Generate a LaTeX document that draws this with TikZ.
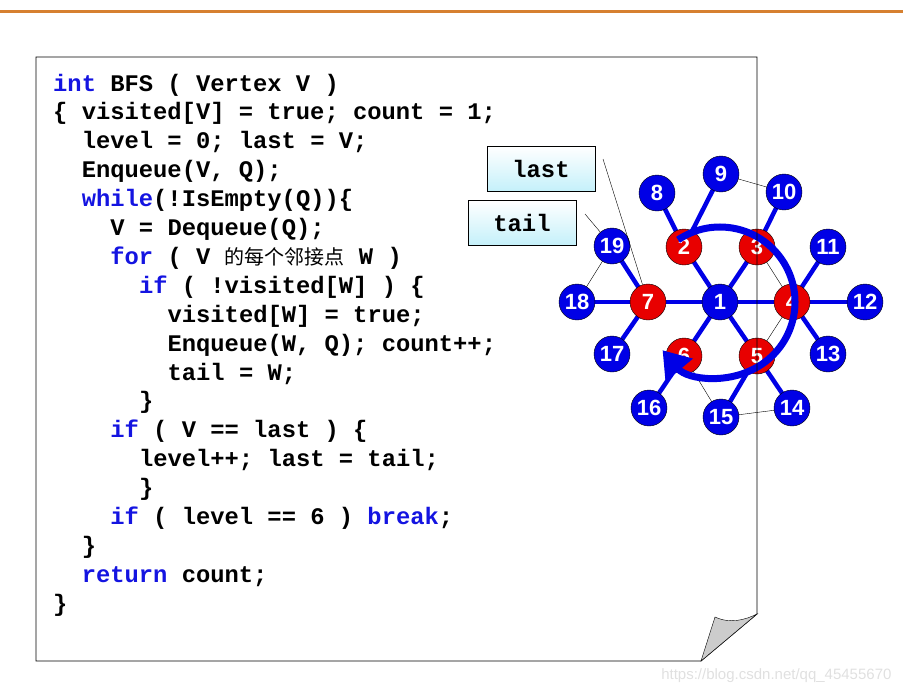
\documentclass[tikz,border=0pt]{standalone}
\usepackage{fontspec}
\setmainfont{Liberation Sans}
\setmonofont{Liberation Mono}
\newfontfamily\cjk{Noto Sans CJK SC}
\usetikzlibrary{arrows.meta}
\definecolor{kwblue}{RGB}{20,20,225}
\definecolor{vblue}{RGB}{0,0,230}
\definecolor{vred}{RGB}{232,0,0}
\definecolor{boxcyan}{RGB}{196,240,250}
\definecolor{rule}{RGB}{214,128,48}
\newcommand{\kw}[1]{\textcolor{kwblue}{#1}}
\tikzset{
  codeline/.style={anchor=base west, inner sep=0pt, font=\ttfamily\bfseries\fontsize{23.8}{29}\selectfont},
  vertex/.style={circle, draw=black, thin, minimum size=36pt, inner sep=0pt, text=white, font=\bfseries\fontsize{22}{22}\selectfont},
  tag/.style={rectangle, draw=black, thin, top color=white, bottom color=boxcyan, minimum width=108pt, minimum height=45pt, font=\ttfamily\bfseries\fontsize{23.8}{29}\selectfont},
  tree/.style={draw=vblue, line width=4.5pt},
  link/.style={draw=black, thin}
}
\begin{document}
\begin{tikzpicture}[x=1pt, y=-1pt]
  \useasboundingbox (0,0) rectangle (903,694);
  % top rule and page
  \draw [rule, line width=3pt] (0,11) -- (903,11);
  \fill [white] (36,57) -- (757,57) -- (757,614) -- (701,661) -- (36,661) -- cycle;
  % code
  \foreach \y/\ind/\txt in {
      0/0/{\kw{int} BFS ( Vertex V )},
      1/0/{\{ visited[V] = true; count = 1;},
      2/2/{level = 0; last = V;},
      3/2/{Enqueue(V, Q);},
      4/2/{\kw{while}(!IsEmpty(Q))\{},
      5/4/{V = Dequeue(Q);},
      6/4/{\kw{for} ( V {\cjk\mdseries\fontsize{20}{20}\selectfont 的每个邻接点} W )},
      7/6/{\kw{if} ( !visited[W] ) \{},
      8/8/{visited[W] = true;},
      9/8/{Enqueue(W, Q); count++;},
      10/8/{tail = W;},
      11/6/{\}},
      12/4/{\kw{if} ( V == last ) \{},
      13/6/{level++; last = tail;},
      14/6/{\}},
      15/4/{\kw{if} ( level == 6 ) \kw{break};},
      16/2/{\}},
      17/2/{\kw{return} count;},
      18/0/{\}}}
    \node [codeline] (c\y) at (53+14.3*\ind, 91+28.9*\y) {\txt};
  % labels
  \node [tag] (last) at (541,169) {last};
  \node [tag] (tail) at (522,223) {tail};
  % vertices
  \foreach \n/\x/\y/\c in {1/720/302/vblue, 2/684/247/vred, 3/757/247/vred, 4/792/302/vred,
      5/757/356/vred, 6/684/356/vred, 7/648/302/vred, 8/657/193/vblue, 9/721/174/vblue,
      10/784/192/vblue, 11/828/247/vblue, 12/865/302/vblue, 13/828/354/vblue, 14/792/408/vblue,
      15/721/417/vblue, 16/649/408/vblue, 17/612/354/vblue, 18/577/302/vblue, 19/612/246/vblue}
    \coordinate (p\n) at (\x,\y);
  \foreach \a/\b in {9/10, 19/18, 3/4, 4/5, 6/15, 15/14}
    \path [link] (p\a) -- (p\b);
  \foreach \a/\b in {1/2, 1/3, 1/4, 1/5, 1/6, 1/7, 2/8, 2/9, 3/10, 4/11, 4/12, 4/13,
      5/14, 5/15, 6/16, 7/17, 7/18, 7/19}
    \path [tree] (p\a) -- (p\b);
  \foreach \n/\c in {1/vblue, 2/vred, 3/vred, 4/vred, 5/vred, 6/vred, 7/vred, 8/vblue, 9/vblue,
      10/vblue, 11/vblue, 12/vblue, 13/vblue, 14/vblue, 15/vblue, 16/vblue, 17/vblue, 18/vblue, 19/vblue}
    \node [vertex, fill=\c] (v\n) at (p\n) {\n};
  \coordinate (lastend) at (603,159);
  \coordinate (tailend) at (585,214);
  \draw [link] (lastend) -- (v7);
  \draw [link] (tailend) -- (v19);
  % traversal arrow
  \draw [vblue, line width=7pt, -{Triangle[length=26pt, width=34pt]}]
    ([shift={(236:75)}]p1) arc [start angle=236, end angle=500, radius=75];
  % page outline and fold
  \draw [black, thick] (36,57) -- (757,57) -- (757,614) -- (701,661) -- (36,661) -- cycle;
  \draw [black, thin, fill=black!20] (701,661) -- (715,617) .. controls (730,624) and (745,620) .. (757,614) -- cycle;
  \node [text=black!12, font=\fontsize{15}{15}\selectfont, anchor=east] (mark) at (895,676) {https://blog.csdn.net/qq\_45455670};
\end{tikzpicture}
\end{document}
